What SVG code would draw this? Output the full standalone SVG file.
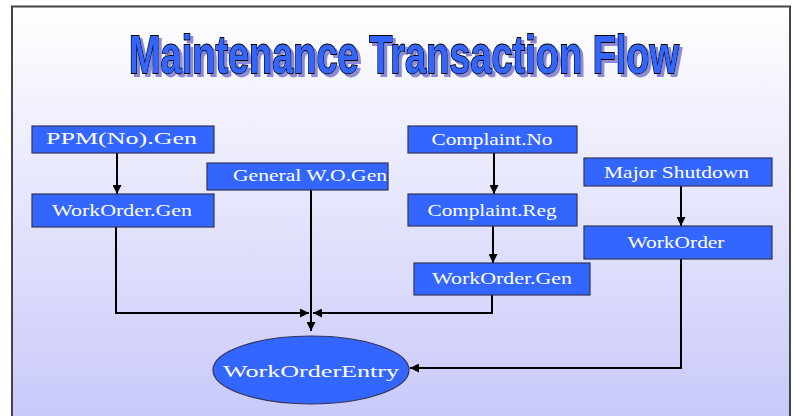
<svg xmlns="http://www.w3.org/2000/svg" width="794" height="416" viewBox="0 0 794 416">
  <defs>
    <linearGradient id="bg" x1="0" y1="0" x2="0" y2="1">
      <stop offset="0" stop-color="#FFFFFF"/>
      <stop offset="1" stop-color="#C8C8FA"/>
    </linearGradient>
    <filter id="shadow" filterUnits="userSpaceOnUse" x="100" y="20" width="610" height="75">
      <feDropShadow dx="3" dy="3" stdDeviation="0.6" flood-color="#8A8AD6" flood-opacity="1"/>
    </filter>
    <marker id="arr" viewBox="0 0 10 10" refX="10" refY="5" markerWidth="9" markerHeight="9" markerUnits="userSpaceOnUse" orient="auto">
      <path d="M0,0 L10,5 L0,10 Z" fill="#000"/>
    </marker>
    <style>
      .box { fill: #3366FF; stroke: #333355; stroke-width: 1.2; }
      .lbl { font-family: "Liberation Serif", "Times New Roman", serif; font-size: 17px; fill: #FFFFFF; text-anchor: middle; }
      .conn { fill: none; stroke: #000; stroke-width: 2; }
      .title { font-family: "Liberation Sans", Arial, sans-serif; font-weight: bold; font-size: 38px; fill: #3366FF; stroke: #000; stroke-width: 1.3; paint-order: stroke; }
    </style>
  </defs>
  <rect x="0" y="0" width="794" height="416" fill="#FFFFFF"/>
  <rect x="12" y="6.5" width="778" height="420" fill="url(#bg)" stroke="#444444" stroke-width="2"/>

  <g id="title" filter="url(#shadow)">
    <text class="title" transform="translate(129,73) scale(1,1.42)" x="0" y="0" textLength="550" lengthAdjust="spacingAndGlyphs">Maintenance Transaction Flow</text>
  </g>

  <g id="connectors">
    <path class="conn" d="M117,153 V194" marker-end="url(#arr)"/>
    <path class="conn" d="M494,153 V194" marker-end="url(#arr)"/>
    <path class="conn" d="M493,226 V263" marker-end="url(#arr)"/>
    <path class="conn" d="M681,186 V226" marker-end="url(#arr)"/>
    <path class="conn" d="M116,227 V313 H309" marker-end="url(#arr)"/>
    <path class="conn" d="M492,295 V313 H313" marker-end="url(#arr)"/>
    <path class="conn" d="M311,190 V331" marker-end="url(#arr)"/>
    <path class="conn" d="M681,259 V368 H410" marker-end="url(#arr)"/>
  </g>

  <g id="ppm">
    <rect class="box" x="32" y="126" width="182" height="27"/>
    <text class="lbl" x="121.5" y="144" textLength="151" lengthAdjust="spacingAndGlyphs">PPM(No).Gen</text>
  </g>
  <g id="wo-left">
    <rect class="box" x="32" y="194" width="182" height="33"/>
    <text class="lbl" x="122" y="215.5" textLength="140" lengthAdjust="spacingAndGlyphs">WorkOrder.Gen</text>
  </g>
  <g id="general">
    <rect class="box" x="207" y="163" width="181" height="27"/>
    <text class="lbl" x="310" y="181" textLength="154" lengthAdjust="spacingAndGlyphs">General W.O.Gen</text>
  </g>
  <g id="complaint-no">
    <rect class="box" x="408" y="126" width="169" height="27"/>
    <text class="lbl" x="492" y="145" textLength="121" lengthAdjust="spacingAndGlyphs">Complaint.No</text>
  </g>
  <g id="complaint-reg">
    <rect class="box" x="408" y="194" width="169" height="32"/>
    <text class="lbl" x="492" y="215.5" textLength="129" lengthAdjust="spacingAndGlyphs">Complaint.Reg</text>
  </g>
  <g id="wo-mid">
    <rect class="box" x="414" y="263" width="176" height="32"/>
    <text class="lbl" x="502" y="283.5" textLength="140" lengthAdjust="spacingAndGlyphs">WorkOrder.Gen</text>
  </g>
  <g id="major">
    <rect class="box" x="584" y="158" width="188" height="28"/>
    <text class="lbl" x="676.5" y="177.5" textLength="145" lengthAdjust="spacingAndGlyphs">Major Shutdown</text>
  </g>
  <g id="wo-right">
    <rect class="box" x="584" y="226" width="188" height="33"/>
    <text class="lbl" x="676" y="248" textLength="97" lengthAdjust="spacingAndGlyphs">WorkOrder</text>
  </g>
  <g id="entry">
    <ellipse class="box" cx="311" cy="370" rx="98" ry="34"/>
    <text class="lbl" x="311" y="377" font-size="19" textLength="176" lengthAdjust="spacingAndGlyphs">WorkOrderEntry</text>
  </g>
</svg>
